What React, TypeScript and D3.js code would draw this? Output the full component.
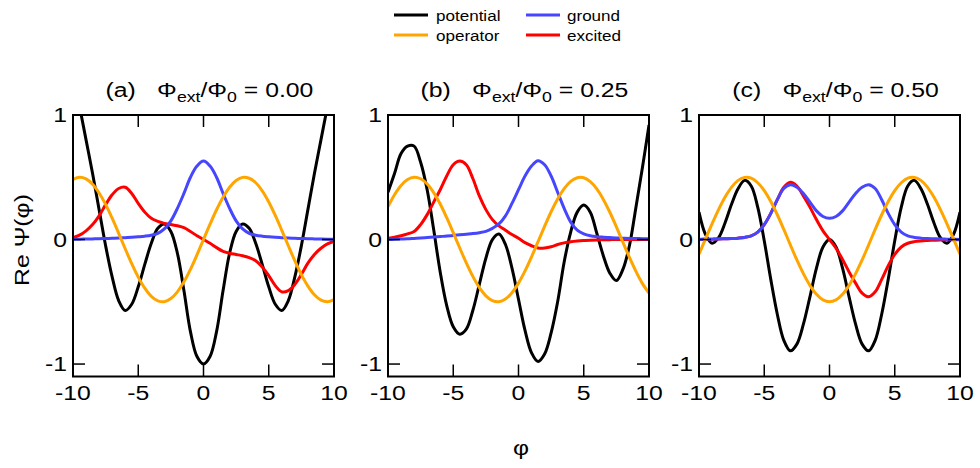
import React from 'react';
import * as d3 from 'd3';

const PHI = [-10, -9.5, -9, -8.5, -8, -7.5, -7, -6.5, -6, -5.5, -5, -4.5, -4, -3.5, -3, -2.5, -2, -1.5, -1, -0.5, 0,
  0.5, 1, 1.5, 2, 2.5, 3, 3.5, 4, 4.5, 5, 5.5, 6, 6.5, 7, 7.5, 8, 8.5, 9, 9.5, 10];

// Panel (a) Φext/Φ0 = 0.00
const POT_A = [1.33, 1.07, 0.80, 0.53, 0.24, -0.05, -0.30, -0.49, -0.57, -0.52, -0.38, -0.20, -0.03, 0.09, 0.125, 0.065, -0.11, -0.41, -0.74, -0.94, -1.00,
  -0.94, -0.74, -0.41, -0.11, 0.065, 0.125, 0.09, -0.03, -0.20, -0.38, -0.52, -0.57, -0.49, -0.30, -0.05, 0.24, 0.53, 0.80, 1.07, 1.33];
const OP_A = [0.482, 0.500, 0.487, 0.444, 0.374, 0.282, 0.171, 0.050, -0.074, -0.194, -0.302, -0.391, -0.456, -0.492, -0.499, -0.474, -0.420, -0.340, -0.239, -0.123, 0,
  0.123, 0.239, 0.340, 0.420, 0.474, 0.499, 0.492, 0.456, 0.391, 0.302, 0.194, 0.074, -0.050, -0.171, -0.282, -0.374, -0.444, -0.487, -0.500, -0.482];
const GND_A = [0.002, 0.003, 0.004, 0.005, 0.006, 0.008, 0.010, 0.012, 0.015, 0.018, 0.022, 0.027, 0.035, 0.050, 0.085, 0.150, 0.250, 0.370, 0.500, 0.590, 0.630,
  0.590, 0.500, 0.370, 0.250, 0.150, 0.085, 0.050, 0.035, 0.027, 0.022, 0.018, 0.015, 0.012, 0.010, 0.008, 0.006, 0.005, 0.004, 0.003, 0.002];
const EXC_A = [0.015, 0.035, 0.07, 0.12, 0.19, 0.28, 0.36, 0.41, 0.42, 0.37, 0.29, 0.22, 0.17, 0.145, 0.13, 0.12, 0.11, 0.095, 0.065, 0.03, 0,
  -0.03, -0.065, -0.095, -0.11, -0.12, -0.13, -0.145, -0.17, -0.22, -0.29, -0.37, -0.42, -0.41, -0.36, -0.28, -0.19, -0.12, -0.07, -0.035, -0.015];

// Panel (b) Φext/Φ0 = 0.25
const POT_B = [0.38, 0.53, 0.69, 0.75, 0.75, 0.62, 0.40, 0.08, -0.26, -0.53, -0.70, -0.76, -0.72, -0.57, -0.36, -0.15, 0.00, 0.044, -0.04, -0.23, -0.48,
  -0.73, -0.91, -0.98, -0.92, -0.75, -0.50, -0.18, 0.06, 0.22, 0.277, 0.22, 0.05, -0.13, -0.27, -0.33, -0.24, -0.05, 0.26, 0.58, 0.92];
const OP_B = [0.264, 0.360, 0.434, 0.482, 0.500, 0.488, 0.446, 0.377, 0.285, 0.175, 0.055, -0.068, -0.188, -0.296, -0.386, -0.452, -0.491, -0.499, -0.478, -0.427, -0.350,
  -0.252, -0.139, -0.017, 0.106, 0.223, 0.326, 0.409, 0.467, 0.496, 0.496, 0.465, 0.406, 0.322, 0.219, 0.102, -0.022, -0.143, -0.256, -0.354, -0.430];
const GND_B = [0.000, 0.002, 0.004, 0.006, 0.009, 0.012, 0.016, 0.020, 0.024, 0.028, 0.033, 0.038, 0.043, 0.048, 0.055, 0.066, 0.090, 0.125, 0.190, 0.290, 0.400,
  0.510, 0.590, 0.633, 0.600, 0.510, 0.380, 0.250, 0.140, 0.075, 0.045, 0.030, 0.023, 0.019, 0.016, 0.013, 0.011, 0.009, 0.008, 0.007, 0.006];
const EXC_B = [0.010, 0.018, 0.030, 0.045, 0.065, 0.120, 0.200, 0.300, 0.400, 0.510, 0.600, 0.630, 0.600, 0.490, 0.350, 0.240, 0.160, 0.110, 0.075, 0.040, 0.010,
  -0.025, -0.050, -0.068, -0.068, -0.058, -0.040, -0.027, -0.018, -0.012, -0.008, -0.005, -0.003, -0.002, -0.001, 0, 0, 0, 0, 0, 0];

// Panel (c) Φext/Φ0 = 0.50
const POT_C = [0.22, 0.04, -0.03, 0.015, 0.135, 0.285, 0.41, 0.475, 0.43, 0.26, -0.01, -0.32, -0.60, -0.81, -0.894, -0.84, -0.68, -0.46, -0.23, -0.06, 0.0,
  -0.06, -0.23, -0.46, -0.68, -0.84, -0.894, -0.81, -0.60, -0.32, -0.01, 0.26, 0.43, 0.475, 0.41, 0.285, 0.135, 0.015, -0.03, 0.04, 0.22];
const OP_C = [-0.118, 0.005, 0.126, 0.240, 0.341, 0.421, 0.475, 0.499, 0.493, 0.456, 0.393, 0.305, 0.199, 0.081, -0.043, -0.164, -0.274, -0.368, -0.440, -0.485, -0.500,
  -0.485, -0.440, -0.368, -0.274, -0.164, -0.043, 0.081, 0.199, 0.305, 0.393, 0.456, 0.493, 0.499, 0.475, 0.421, 0.341, 0.240, 0.126, 0.005, -0.118];
const GND_C = [0.001, 0.002, 0.003, 0.004, 0.006, 0.008, 0.011, 0.017, 0.030, 0.060, 0.120, 0.210, 0.320, 0.410, 0.440, 0.420, 0.370, 0.300, 0.230, 0.185, 0.170,
  0.185, 0.230, 0.300, 0.370, 0.420, 0.440, 0.410, 0.320, 0.210, 0.120, 0.060, 0.030, 0.017, 0.011, 0.008, 0.006, 0.004, 0.003, 0.002, 0.001];
const EXC_C = [0.001, 0.002, 0.003, 0.004, 0.006, 0.008, 0.011, 0.017, 0.030, 0.060, 0.120, 0.210, 0.320, 0.420, 0.460, 0.430, 0.350, 0.260, 0.160, 0.070, 0,
  -0.070, -0.160, -0.260, -0.350, -0.430, -0.460, -0.420, -0.320, -0.210, -0.120, -0.060, -0.030, -0.017, -0.011, -0.008, -0.006, -0.004, -0.003, -0.002, -0.001];

const PANEL_LABELS = ['(a)', '(b)', '(c)'];
const FLUX_VALUES = ['0.00', '0.25', '0.50'];
const X_TICKS = [-10, -5, 0, 5, 10];
const Y_TICKS = [-1, 0, 1];
const LEGEND_ITEMS = ['potential', 'ground', 'operator', 'excited'];

const COLORS: Record<string, string> = {
  potential: '#000000',
  ground: '#4646ff',
  operator: '#ffa500',
  excited: '#ff0000',
};

const FONT = '"Liberation Sans", Arial, Helvetica, sans-serif';
const SX = 1.18;

const PANEL_LEFTS = [73, 388, 699];
const PANEL_W = 261;
const TOP = 115;
const BOTTOM = 376.5;

function T(props: { x: number; y: number; size: number; anchor?: string; rotate?: number; sx?: number; baseline?: string; children: React.ReactNode }) {
  const { x, y, size, anchor = 'start', rotate = 0, sx = SX, baseline, children } = props;
  return (
    <text
      transform={`translate(${x},${y}) rotate(${rotate}) scale(${sx},1)`}
      fontFamily={FONT}
      fontSize={size}
      textAnchor={anchor}
      dominantBaseline={baseline}
      fill="#000"
    >
      {children}
    </text>
  );
}

function Panel({ idx }: { idx: number }) {
  const left = PANEL_LEFTS[idx];
  const right = left + PANEL_W;
  const x = d3.scaleLinear().domain([-10, 10]).range([left, right]);
  const y = d3.scaleLinear().domain([-1.1, 1]).range([BOTTOM, TOP]);
  const seriesSets = [
    { pot: POT_A, op: OP_A, gnd: GND_A, exc: EXC_A },
    { pot: POT_B, op: OP_B, gnd: GND_B, exc: EXC_B },
    { pot: POT_C, op: OP_C, gnd: GND_C, exc: EXC_C },
  ][idx];
  const line = d3
    .line<number>()
    .x((_, i) => x(PHI[i]))
    .y((d) => y(d))
    .curve(d3.curveCatmullRom.alpha(0.5));
  const clipId = `clip-${idx}`;
  const order: [number[], string][] = [
    [seriesSets.pot, COLORS.potential],
    [seriesSets.exc, COLORS.excited],
    [seriesSets.gnd, COLORS.ground],
    [seriesSets.op, COLORS.operator],
  ];
  const tickLen = 12;
  const cx = (left + right) / 2 + 6;
  return (
    <g>
      <defs>
        <clipPath id={clipId}>
          <rect x={left} y={TOP} width={PANEL_W} height={BOTTOM - TOP} />
        </clipPath>
      </defs>
      <g clipPath={`url(#${clipId})`}>
        {order.map(([vals, col], k) => (
          <path key={k} d={line(vals) || ''} fill="none" stroke={col} strokeWidth={3} strokeLinejoin="round" />
        ))}
      </g>
      {X_TICKS.map((t) => (
        <g key={`x${t}`}>
          <line x1={x(t)} x2={x(t)} y1={BOTTOM} y2={BOTTOM - tickLen} stroke="#000" strokeWidth={1.5} />
          <line x1={x(t)} x2={x(t)} y1={TOP} y2={TOP + tickLen} stroke="#000" strokeWidth={1.5} />
          <T x={x(t)} y={400} size={21} anchor="middle">{String(t)}</T>
        </g>
      ))}
      {Y_TICKS.map((t) => (
        <g key={`y${t}`}>
          <line x1={left} x2={left + tickLen} y1={y(t)} y2={y(t)} stroke="#000" strokeWidth={1.5} />
          <line x1={right} x2={right - tickLen} y1={y(t)} y2={y(t)} stroke="#000" strokeWidth={1.5} />
          <T x={left - 6} y={y(t)} size={21} anchor="end" baseline="central">{String(t)}</T>
        </g>
      ))}
      <rect x={left} y={TOP} width={PANEL_W} height={BOTTOM - TOP} fill="none" stroke="#000" strokeWidth={2} />
      <T x={cx} y={97} size={21} anchor="middle">
        <tspan>{PANEL_LABELS[idx]}</tspan>
        <tspan dx={18}>Φ</tspan>
        <tspan dy={5} fontSize={15}>ext</tspan>
        <tspan dy={-5}>/Φ</tspan>
        <tspan dy={5} fontSize={15}>0</tspan>
        <tspan dy={-5}> = {FLUX_VALUES[idx]}</tspan>
      </T>
    </g>
  );
}

function Legend() {
  const pos = [
    { lx: 394, tx: 436, y: 15 },
    { lx: 526, tx: 567, y: 15 },
    { lx: 394, tx: 436, y: 35 },
    { lx: 526, tx: 567, y: 35 },
  ];
  return (
    <g>
      {LEGEND_ITEMS.map((name, i) => (
        <g key={name}>
          <line x1={pos[i].lx} x2={pos[i].lx + 34} y1={pos[i].y} y2={pos[i].y} stroke={COLORS[name]} strokeWidth={3} />
          <T x={pos[i].tx} y={pos[i].y} size={15.5} sx={1.1} baseline="central">{name}</T>
        </g>
      ))}
    </g>
  );
}

export default function App() {
  return (
    <svg width={980} height={468} viewBox="0 0 980 468" style={{ position: 'absolute', left: 0, top: 0, background: '#fff' }}>
      <rect x={0} y={0} width={980} height={468} fill="#fff" />
      <Legend />
      {[0, 1, 2].map((i) => (
        <Panel key={i} idx={i} />
      ))}
      <T x={29} y={240} size={21} anchor="middle" rotate={-90}>Re Ψ(φ)</T>
      <T x={521} y={455} size={21} anchor="middle">φ</T>
    </svg>
  );
}
